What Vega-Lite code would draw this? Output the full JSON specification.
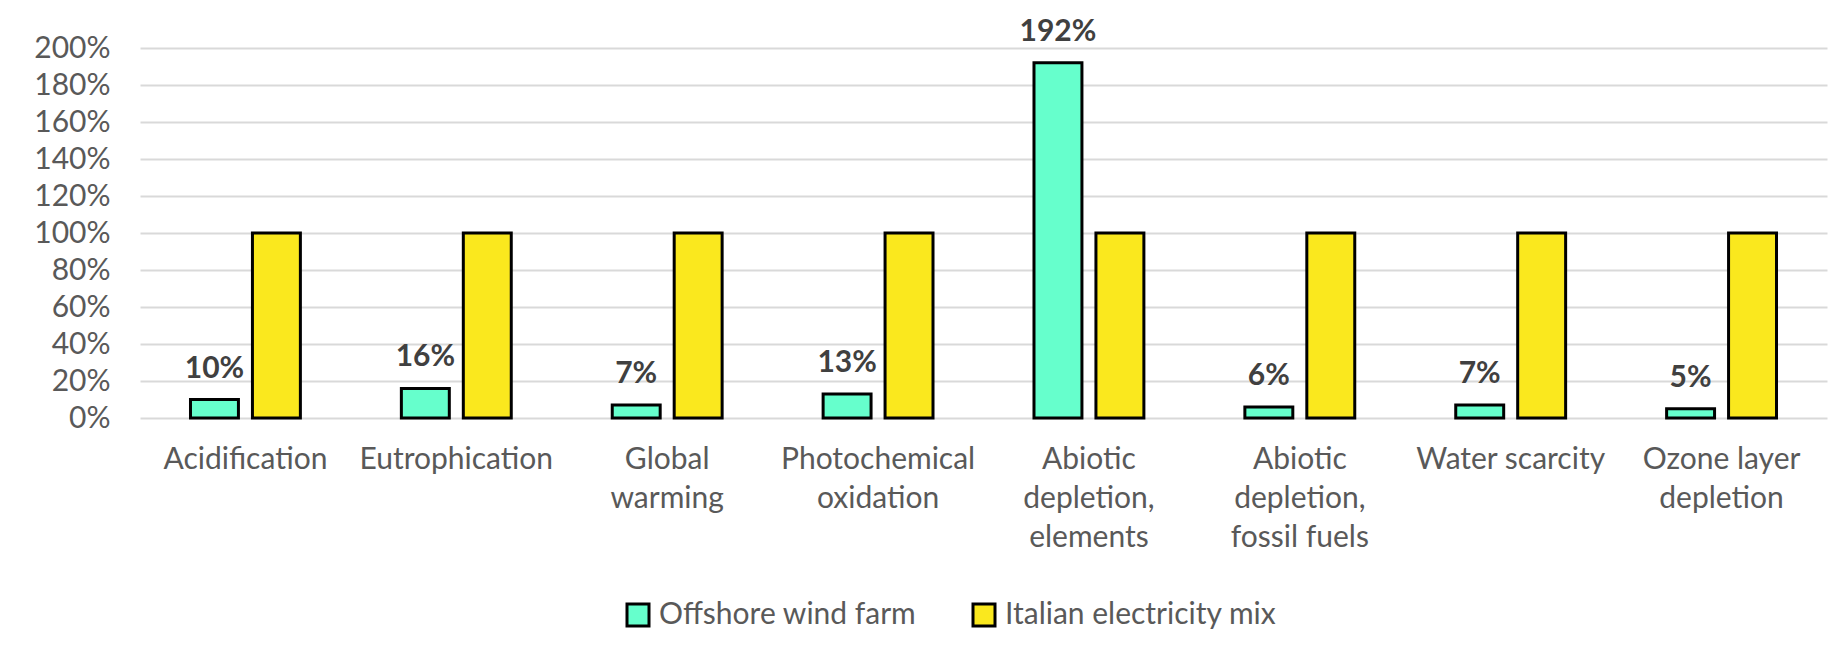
{
  "$schema": "https://vega.github.io/schema/vega-lite/v6.json",
  "autosize": "none",
  "width": 1687,
  "height": 370,
  "padding": {"left": 140, "top": 48, "right": 20, "bottom": 243},
  "background": "white",
  "config": {
    "view": {"stroke": null},
    "font": "Lato"
  },
  "data": {
    "values": [
      {"category": "Acidification", "series": "Offshore wind farm", "value": 0.10},
      {"category": "Acidification", "series": "Italian electricity mix", "value": 1.0},
      {"category": "Eutrophication", "series": "Offshore wind farm", "value": 0.16},
      {"category": "Eutrophication", "series": "Italian electricity mix", "value": 1.0},
      {"category": "Global warming", "series": "Offshore wind farm", "value": 0.07},
      {"category": "Global warming", "series": "Italian electricity mix", "value": 1.0},
      {"category": "Photochemical oxidation", "series": "Offshore wind farm", "value": 0.13},
      {"category": "Photochemical oxidation", "series": "Italian electricity mix", "value": 1.0},
      {"category": "Abiotic depletion, elements", "series": "Offshore wind farm", "value": 1.92},
      {"category": "Abiotic depletion, elements", "series": "Italian electricity mix", "value": 1.0},
      {"category": "Abiotic depletion, fossil fuels", "series": "Offshore wind farm", "value": 0.06},
      {"category": "Abiotic depletion, fossil fuels", "series": "Italian electricity mix", "value": 1.0},
      {"category": "Water scarcity", "series": "Offshore wind farm", "value": 0.07},
      {"category": "Water scarcity", "series": "Italian electricity mix", "value": 1.0},
      {"category": "Ozone layer depletion", "series": "Offshore wind farm", "value": 0.05},
      {"category": "Ozone layer depletion", "series": "Italian electricity mix", "value": 1.0}
    ]
  },
  "encoding": {
    "x": {
      "field": "category",
      "type": "nominal",
      "sort": null,
      "scale": {"paddingInner": 0, "paddingOuter": 0},
      "axis": {
        "title": null,
        "domain": false,
        "ticks": false,
        "labelAngle": 0,
        "labelFontSize": 30,
        "labelColor": "#595959",
        "labelPadding": 26,
        "labelBaseline": "top",
        "labelLineHeight": 39,
        "labelLimit": 0,
        "labelOverlap": false,
        "labelExpr": "datum.label == 'Global warming' ? ['Global','warming'] : datum.label == 'Photochemical oxidation' ? ['Photochemical','oxidation'] : datum.label == 'Abiotic depletion, elements' ? ['Abiotic','depletion,','elements'] : datum.label == 'Abiotic depletion, fossil fuels' ? ['Abiotic','depletion,','fossil fuels'] : datum.label == 'Ozone layer depletion' ? ['Ozone layer','depletion'] : datum.label"
      }
    },
    "xOffset": {
      "field": "series",
      "type": "nominal",
      "sort": ["Offshore wind farm", "Italian electricity mix"],
      "scale": {"domain": ["Offshore wind farm", "Italian electricity mix"], "paddingInner": 0.226, "paddingOuter": 0.815}
    },
    "y": {
      "field": "value",
      "type": "quantitative",
      "scale": {"domain": [0, 2], "nice": false},
      "axis": {
        "title": null,
        "values": [0, 0.2, 0.4, 0.6, 0.8, 1.0, 1.2, 1.4, 1.6, 1.8, 2.0],
        "format": ".0%",
        "domain": false,
        "ticks": false,
        "tickSize": 0,
        "labelPadding": 30,
        "labelFontSize": 30,
        "labelColor": "#595959",
        "gridColor": "#D9D9D9",
        "gridWidth": 2
      }
    }
  },
  "layer": [
    {
      "mark": {"type": "bar", "stroke": "black", "strokeWidth": 3, "strokeJoin": "miter"},
      "encoding": {
        "color": {
          "field": "series",
          "type": "nominal",
          "sort": ["Offshore wind farm", "Italian electricity mix"],
          "scale": {"domain": ["Offshore wind farm", "Italian electricity mix"], "range": ["#66FFCC", "#FAE81E"]},
          "legend": {
            "title": null,
            "orient": "none",
            "direction": "horizontal",
            "legendX": 483,
            "legendY": 552,
            "padding": 0,
            "symbolType": "square",
            "symbolSize": 484,
            "symbolStrokeColor": "black",
            "symbolStrokeWidth": 3,
            "symbolOpacity": 1,
            "labelFontSize": 30,
            "labelColor": "#595959",
            "labelOffset": 6,
            "columnPadding": 50,
            "labelLimit": 0
          }
        }
      }
    },
    {
      "transform": [{"filter": "datum.series === 'Offshore wind farm'"}],
      "mark": {"type": "text", "fontWeight": "bold", "fontSize": 30, "color": "#404040", "baseline": "alphabetic", "dy": -22},
      "encoding": {
        "text": {"field": "value", "type": "quantitative", "format": ".0%"}
      }
    }
  ]
}
